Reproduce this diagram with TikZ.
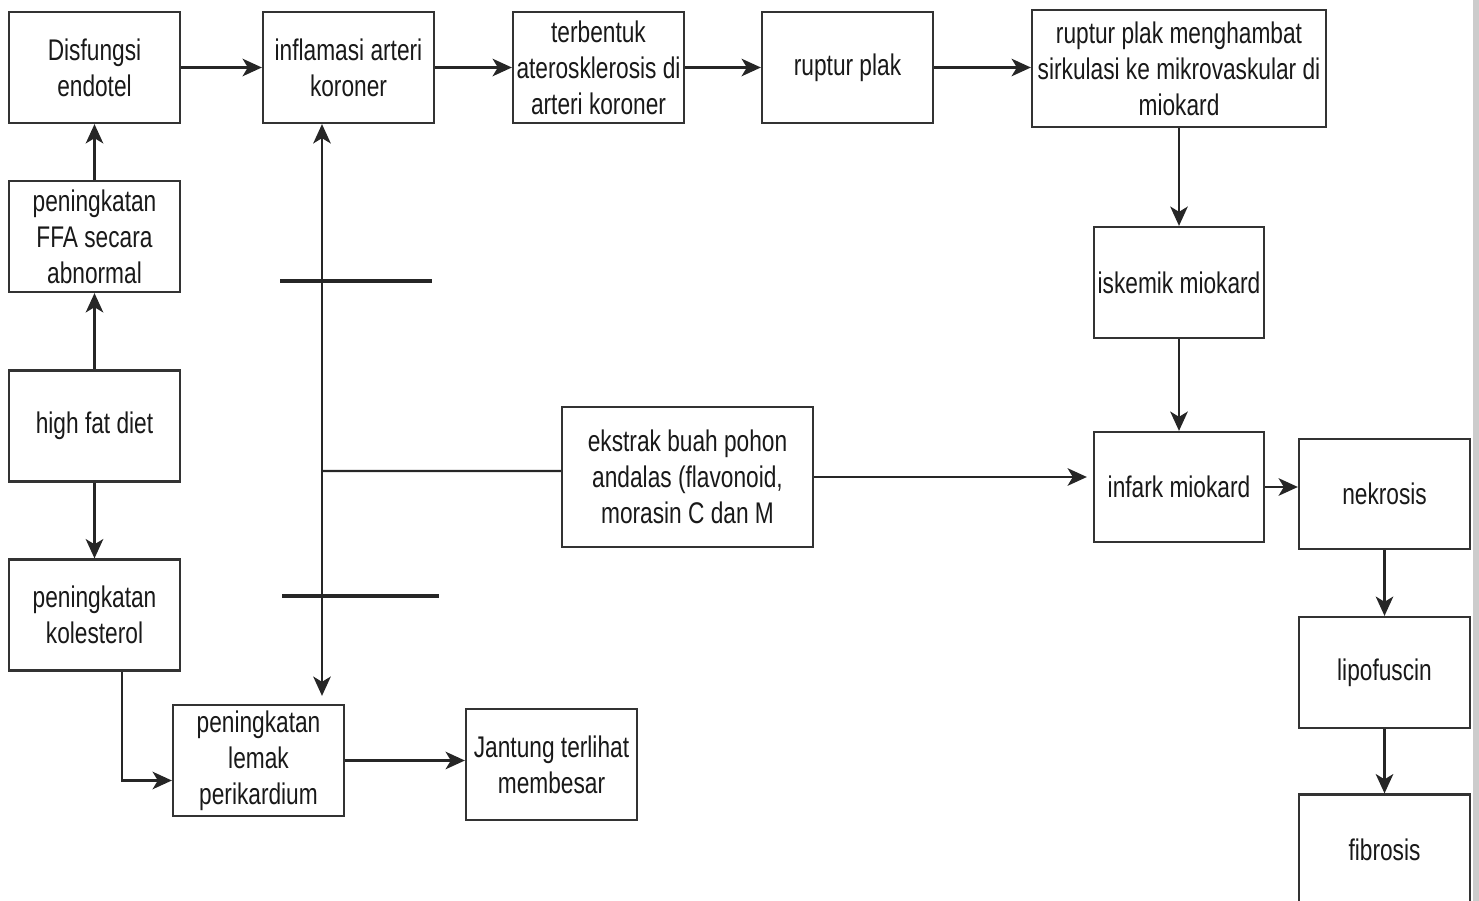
\documentclass[tikz,border=0pt]{standalone}
\usepackage{fontspec}
\setmainfont{Liberation Sans}[FakeStretch=0.76]
\usetikzlibrary{arrows.meta, calc}

\definecolor{boxline}{HTML}{333333}
\newcommand{\boxfont}{\fontsize{17}{20.5}\selectfont}

\begin{document}
\begin{tikzpicture}[x=0.02cm, y=-0.02cm,
    box/.style={draw=boxline, line width=1.3pt, fill=white, minimum width=3.42cm,
        minimum height=2.22cm, align=center, inner sep=1pt, font=\boxfont, text=black!90},
    arr/.style={-{Stealth[length=11pt,width=10pt,inset=3pt]}, line width=1.2pt, black!85},
    bar/.style={line width=1.8pt, black!85}]
    \useasboundingbox (0,0) rectangle (1479,901);
    \fill[black!20] (1473,0) rectangle (1479,901);

    % top chain
    \node[box] (dis) at (94.5,67.5) {Disfungsi\\endotel};
    \node[box] (inf) at (348.5,67.5) {inflamasi arteri\\koroner};
    \node[box] (ate) at (598.5,67.5) {terbentuk\\aterosklerosis di\\arteri koroner};
    \node[box] (rup) at (847.5,67.5) {ruptur plak};
    \node[box, minimum width=5.88cm, minimum height=2.34cm] (mik) at (1179,68.5)
        {ruptur plak menghambat\\sirkulasi ke mikrovaskular di\\miokard};

    % right column
    \node[box, minimum width=3.4cm] (isk) at (1179,282.5) {iskemik miokard};
    \node[box, minimum width=3.4cm, minimum height=2.2cm] (ifk) at (1179,487) {infark miokard};
    \node[box, minimum height=2.2cm] (nek) at (1384.5,494) {nekrosis};
    \node[box] (lip) at (1384.5,672.5) {lipofuscin};
    \node[box] (fib) at (1384.5,850) {fibrosis};

    % left column
    \node[box] (ffa) at (94.5,236.5) {peningkatan\\FFA secara\\abnormal};
    \node[box] (hfd) at (94.5,426) {high fat diet};
    \node[box] (kol) at (94.5,615) {peningkatan\\kolesterol};
    \node[box] (lem) at (258.5,760.5) {peningkatan\\lemak\\perikardium};
    \node[box] (jan) at (551.5,764.5) {Jantung terlihat\\membesar};

    % extract
    \node[box, minimum width=5.02cm, minimum height=2.8cm] (eks) at (687.5,477)
        {ekstrak buah pohon\\andalas (flavonoid,\\morasin C dan M};

    \foreach \a/\b in {dis/inf, inf/ate, ate/rup, rup/mik} {
        \draw[arr] (\a.east |- 0,67.5) -- (\b.west |- 0,67.5);
    }
    \foreach \a/\b in {mik/isk, isk/ifk, nek/lip, lip/fib, ffa/dis, hfd/ffa, hfd/kol} {
        \draw[arr] (\a) -- (\b);
    }
    \draw[arr] (ifk.east) -- (ifk.east -| nek.west);
    \draw[arr] ([xshift=0.55cm]kol.south) |- ([yshift=-0.4cm]lem.west);
    \draw[arr] (lem.east) -- (lem.east -| jan.west);

    % inhibition by the extract
    \coordinate (jn) at (322,471);
    \draw[line width=1.2pt, black!85] ([yshift=0.12cm]eks.west) -- (jn);
    \draw[arr] (jn) -- (jn |- inf.south);
    \draw[arr, shorten >=0.16cm] (jn) -- (jn |- lem.north);
    \draw[bar] (280,281) -- (432,281);
    \draw[bar] (282,596) -- (439,596);
    \draw[arr, shorten >=0.12cm] (eks.east) -- (eks.east -| ifk.west);
\end{tikzpicture}
\end{document}
